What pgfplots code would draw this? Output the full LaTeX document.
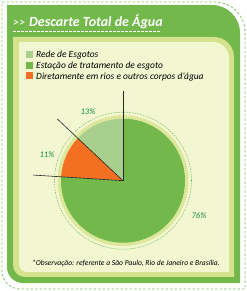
\documentclass[border=0pt]{standalone}
\usepackage{pgfplots}
\pgfplotsset{compat=1.18}
\usepackage{pgfplotstable}
\usepackage{fontspec}
\setmainfont{Carlito}
\definecolor{panelgreen}{HTML}{72B84B}
\definecolor{lightborder}{HTML}{D4E38B}
\definecolor{cream}{HTML}{F2F7D1}
\definecolor{rede}{HTML}{A9CF8F}
\definecolor{etgreen}{HTML}{72B84B}
\definecolor{orng}{HTML}{F37022}
\definecolor{lblgreen}{HTML}{1A8C45}
\definecolor{ringc}{HTML}{DCE79B}
\definecolor{dashg}{HTML}{86C168}

\pgfplotstableread{
value col
13 rede
11 orng
76 etgreen
}\piedata

\begin{document}
\begin{tikzpicture}[x=1bp,y=1bp]
\path[use as bounding box] (0,0) rectangle (247,291);
% outer dashed border
\draw[dashg, line width=0.8bp, dash pattern=on 2.5bp off 2bp]
  (2,289) -- (215,289) arc[start angle=90, end angle=0, radius=30] -- (245,2) -- (20,2) arc[start angle=270, end angle=180, radius=18] -- cycle;
% green panel
\fill[panelgreen] (7,286) -- (212,286) arc[start angle=90, end angle=0, radius=28] -- (240,8) -- (23,8) arc[start angle=270, end angle=180, radius=16] -- cycle;
% light border
\fill[lightborder] (13,254) -- (214,254) arc[start angle=90, end angle=0, radius=20] -- (234,14) -- (25,14) arc[start angle=270, end angle=180, radius=12] -- cycle;
% cream
\fill[cream] (19,249) -- (213,249) arc[start angle=90, end angle=0, radius=16] -- (229,19) -- (27,19) arc[start angle=270, end angle=180, radius=8] -- cycle;
% title
\node[anchor=base west, inner sep=0, text=white!80!panelgreen, font=\bfseries\itshape\fontsize{12}{13}\selectfont] at (13,265) {{>}\kern0.3bp{>}};
\node[anchor=base west, inner sep=0, text=white, font=\bfseries\itshape\fontsize{14}{15}\selectfont] at (29,265) {Descarte Total de Água};
\draw[white, line width=0.8bp, dash pattern=on 2.5bp off 1.5bp] (13,260) -- (160,260);
% legend
\fill[rede] (26,233) rectangle (33,240);
\fill[etgreen] (26,222) rectangle (33,229);
\fill[orng] (26,211.5) rectangle (33,218.5);
\begin{scope}[every node/.style={anchor=base west, inner sep=0, font=\itshape\fontsize{9.5}{10}\selectfont}]
\node at (36,233.5) {Rede de Esgotos};
\node at (36,222.5) {Estação de tratamento de esgoto};
\node at (36,212) {Diretamente em rios e outros corpos d'água};
\end{scope}
% footnote
\node[anchor=base, inner sep=0, font=\itshape\fontsize{7.6}{8}\selectfont] at (126,26) {*Observação: referente a São Paulo, Rio de Janeiro e Brasília.};
% pie
\begin{axis}[hide axis, x=1bp, y=1bp, xmin=-100, xmax=100, ymin=-100, ymax=100,
  anchor=center, at={(123,110.3)}, scale only axis, clip=false]
\pgfplotsextra{
  \fill[ringc] (axis cs:0,0) circle[radius=65.5bp];
  \draw[dashg, line width=0.6bp, dash pattern=on 1.5bp off 1.2bp] (axis cs:0,0) circle[radius=68.5bp];
  \gdef\angA{90}
  \foreach \i in {0,1,2}{
    \pgfplotstablegetelem{\i}{value}\of\piedata \let\v\pgfplotsretval
    \pgfplotstablegetelem{\i}{col}\of\piedata \let\c\pgfplotsretval
    \pgfmathsetmacro\angB{\angA+3.6*\v}
    \fill[fill=\c] (axis cs:0,0) -- ++(\angA:62bp) arc[start angle=\angA, end angle=\angB, radius=62bp] -- cycle;
    \xdef\angA{\angB}
  }
  \gdef\angA{90}
  \foreach \i in {0,1,2}{
    \pgfplotstablegetelem{\i}{value}\of\piedata \let\v\pgfplotsretval
    \draw[black!85, line width=0.6bp] (axis cs:0,0) -- ++(\angA:90bp);
    \pgfmathsetmacro\angB{\angA+3.6*\v}
    \xdef\angA{\angB}
  }
}
\node[text=lblgreen, font=\itshape\fontsize{8.5}{9}\selectfont] at (axis cs:-35,69.5) {13\%};
\node[text=lblgreen, font=\itshape\fontsize{8.5}{9}\selectfont] at (axis cs:-76,26.5) {11\%};
\node[text=lblgreen, font=\itshape\fontsize{8.5}{9}\selectfont] at (axis cs:76,-34.5) {76\%};
\end{axis}
\end{tikzpicture}
\end{document}
